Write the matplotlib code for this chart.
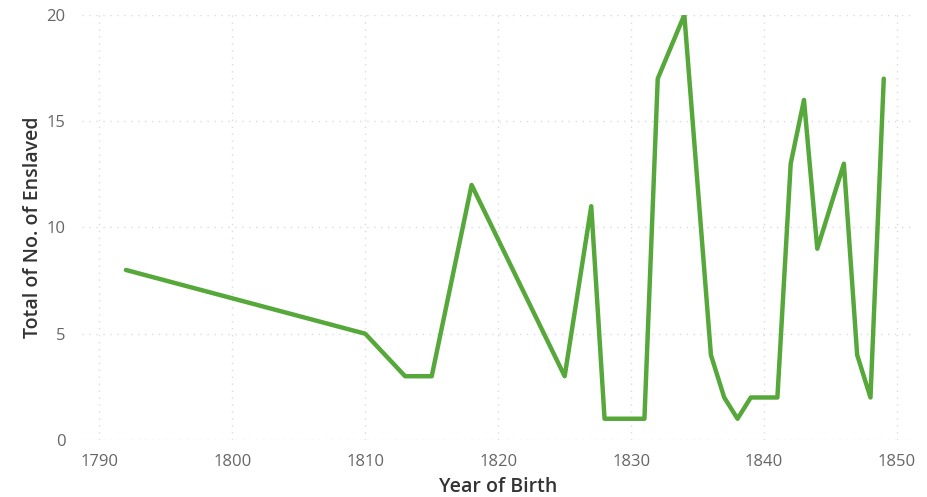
import matplotlib
matplotlib.use("Agg")
import matplotlib.pyplot as plt

years = [1792, 1810, 1813, 1815, 1818, 1825, 1827, 1828, 1831, 1832, 1834,
         1836, 1837, 1838, 1839, 1841, 1842, 1843, 1844, 1846, 1847, 1848, 1849]
enslaved = [8, 5, 3, 3, 12, 3, 11, 1, 1, 17, 20,
            4, 2, 1, 2, 2, 13, 16, 9, 13, 4, 2, 17]
x_ticks = [1790, 1800, 1810, 1820, 1830, 1840, 1850]
y_ticks = [0, 5, 10, 15, 20]

plt.rcParams['font.family'] = ['Open Sans', 'DejaVu Sans']

fig = plt.figure(figsize=(9.28, 4.97), dpi=100)
ax = fig.add_axes([0.0884, 0.1147, 0.8976, 0.8553])
ax.plot(years, enslaved, color='#56a83b', linewidth=3.2,
        solid_joinstyle='round', solid_capstyle='round', zorder=3)

ax.set_xlim(1788.7, 1851.35)
ax.set_ylim(0, 20)
ax.set_xticks(x_ticks)
ax.set_yticks(y_ticks)
ax.grid(True, color='#d9dbe3', linestyle=(0, (1, 4)), linewidth=1.0)
for s in ax.spines.values():
    s.set_visible(False)
ax.tick_params(length=0, labelsize=12, colors='#666666')
ax.tick_params(axis='y', pad=12)
ax.tick_params(axis='x', pad=10)
ax.set_xlabel('Year of Birth', fontsize=14, color='#333333', fontweight='semibold', labelpad=5)
ax.set_ylabel('Total of No. of Enslaved', fontsize=14, color='#333333', fontweight='semibold', labelpad=2)

fig.savefig('out.png', dpi=100)
